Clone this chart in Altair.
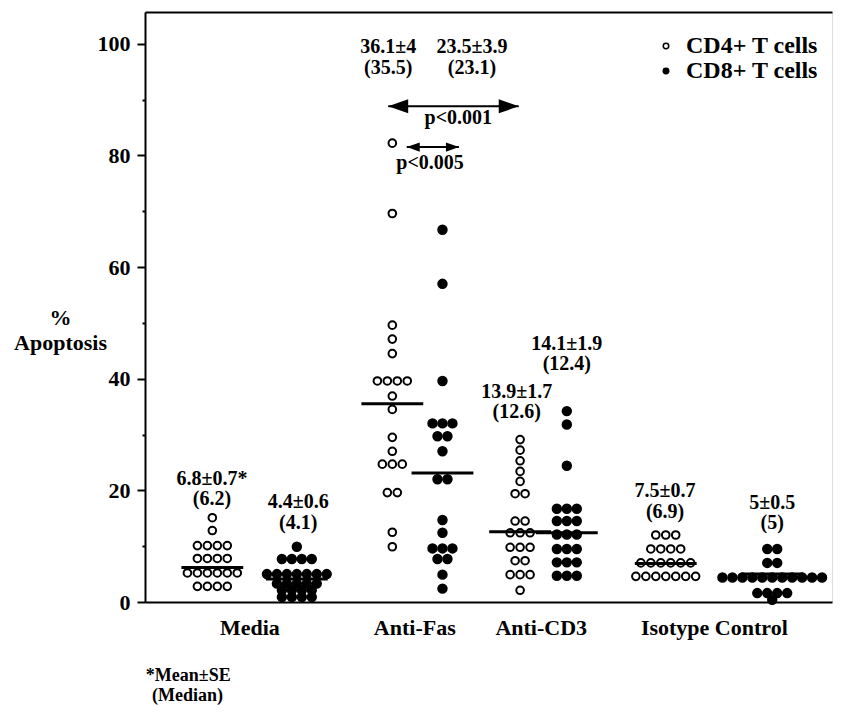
import altair as alt
import pandas as pd

# ---------------- data ----------------
groups = ["Media", "Anti-Fas", "Anti-CD3", "Isotype Control"]
series = ["CD4+ T cells", "CD8+ T cells"]

media_cd4 = [15.1, 12.8, 10.1, 10.1, 10.1, 10.1, 7.8, 7.8, 7.8, 7.8,
             5.2, 5.2, 5.2, 5.2, 5.2, 5.2, 2.8, 2.8, 2.8, 2.8]
media_cd8 = [9.9, 7.7, 7.7, 7.7, 7.7, 5.0, 5.0, 5.0, 5.0, 5.0, 5.0, 5.0,
             3.3, 3.3, 3.3, 3.3, 3.3, 2.1, 2.1, 2.1, 2.1, 0.9, 0.9, 0.9, 0.9]
antifas_cd4 = [82.2, 69.6, 49.6, 47.1, 44.5, 39.6, 39.6, 39.6, 39.6, 36.9,
               34.5, 29.5, 27.0, 24.7, 24.7, 24.7, 19.6, 19.6, 12.5, 9.9]
antifas_cd8 = [66.7, 57.0, 39.6, 32.0, 32.0, 32.0, 29.7, 29.7, 27.0, 22.0,
               22.0, 14.7, 12.4, 9.6, 9.6, 9.6, 7.7, 7.7, 4.9, 2.4]
anticd3_cd4 = [29.1, 27.2, 25.3, 23.4, 21.6, 19.4, 19.4, 14.5, 14.5, 12.4,
               12.4, 12.4, 9.8, 9.8, 9.8, 7.4, 7.4, 4.9, 4.9, 4.9, 2.1]
anticd3_cd8 = [34.2, 31.8, 24.4, 16.7, 16.7, 16.7, 14.5, 14.5, 14.5, 12.1,
               12.1, 12.1, 9.5, 9.5, 9.5, 7.1, 7.1, 7.1, 4.7, 4.7, 4.7]
isotype_cd4 = [12.0, 12.0, 12.0, 9.5, 9.5, 9.5, 9.5, 7.0, 7.0, 7.0, 7.0, 7.0,
               7.0, 4.6, 4.6, 4.6, 4.6, 4.6, 4.6, 4.6]
isotype_cd8 = [9.5, 9.5, 7.0, 7.0, 4.4, 4.4, 4.4, 4.4, 4.4, 4.4, 4.4, 4.4,
               4.4, 4.4, 4.4, 1.6, 1.6, 1.6, 1.6, 0.4]

medians = [6.2, 4.1, 35.5, 23.1, 12.6, 12.4, 6.9, 5.0]
mean_se_labels = ["6.8±0.7*", "4.4±0.6", "36.1±4", "23.5±3.9",
                  "13.9±1.7", "14.1±1.9", "7.5±0.7", "5±0.5"]
median_labels = ["(6.2)", "(4.1)", "(35.5)", "(23.1)",
                 "(12.6)", "(12.4)", "(6.9)", "(5)"]
p_labels = ["p<0.001", "p<0.005"]
footnote = ["*Mean±SE", "(Median)"]

# ---------------- layout (x in abstract units 0..100) ----------------
column_x = [9.8, 22.1, 36.0, 43.3, 54.6, 61.4, 75.8, 91.3]   # per group/series
group_label_x = [15.2, 39.2, 57.6, 82.8]
dot_step = 1.45
median_half = 4.5
stat_pos = [(9.75, 22.0, 18.4), (22.3, 17.9, 14.2), (35.4, 99.5, 95.6),
            (47.6, 99.5, 95.6), (54.1, 37.6, 34.0), (61.4, 46.2, 42.6),
            (75.7, 19.8, 16.2), (91.3, 17.8, 14.2)]
arrow_pos = [(35.4, 54.4, 88.8, 400), (38.1, 45.7, 81.5, 169)]
p_pos = [(45.6, 86.7), (41.5, 78.7)]
foot_pos = [(6.3, -13.2), (6.2, -16.8)]

FONT = "Liberation Serif"

# ---------------- build tables ----------------
all_sets = [media_cd4, media_cd8, antifas_cd4, antifas_cd8,
            anticd3_cd4, anticd3_cd8, isotype_cd4, isotype_cd8]
rows = []
for k, vals in enumerate(all_sets):
    counts = {}
    for v in vals:
        counts[v] = counts.get(v, 0) + 1
    for v, n in counts.items():
        for i in range(n):
            rows.append({"group": groups[k // 2], "series": series[k % 2],
                         "x": column_x[k] + (i - (n - 1) / 2) * dot_step,
                         "value": v})
points = pd.DataFrame(rows)

med_df = pd.DataFrame({"x": [c - median_half for c in column_x],
                       "x2": [c + median_half for c in column_x],
                       "value": medians})

text_rows = []
for k in range(8):
    cx, y1, y2 = stat_pos[k]
    text_rows.append({"x": cx, "value": y1, "label": mean_se_labels[k]})
    text_rows.append({"x": cx, "value": y2, "label": median_labels[k]})
for (px, py), lab in zip(p_pos, p_labels):
    text_rows.append({"x": px, "value": py, "label": lab})
text_df = pd.DataFrame(text_rows)
foot_df = pd.DataFrame([{"x": fx, "value": fy, "label": lab}
                        for (fx, fy), lab in zip(foot_pos, footnote)])

arrow_df = pd.DataFrame([{"x": a, "x2": b, "value": y} for a, b, y, s in arrow_pos])
head_rows = []
for a, b, y, s in arrow_pos:
    head_rows.append({"x": a, "value": y, "dir": "L", "hs": s})
    head_rows.append({"x": b, "value": y, "dir": "R", "hs": s})
head_df = pd.DataFrame(head_rows)

# ---------------- scales / axes ----------------
xscale = alt.Scale(domain=[0, 100], nice=False, zero=False)
yscale = alt.Scale(domain=[0, 105.7], nice=False, zero=False)

label_expr = " : ".join(
    f"abs(datum.value - {x}) < 0.01 ? '{g}'" for x, g in zip(group_label_x, groups)
) + " : ''"

y_axis = alt.Axis(
    values=list(range(0, 101, 10)),
    labelExpr="datum.value % 20 === 0 ? datum.label : ''",
    tickSize={"condition": {"test": "datum.value % 20 === 0", "value": 8}, "value": 3},
    tickWidth=2, tickColor="black", domainWidth=2, domainColor="black",
    labelFont=FONT, labelFontSize=22, labelFontWeight="bold", labelColor="black",
    labelPadding=7, grid=False,
    title=["%", "Apoptosis"], titleAngle=0, titleAlign="center",
    titleBaseline="alphabetic", titleX=-85, titleY=312, titleFont=FONT,
    titleFontSize=22, titleFontWeight="bold", titleColor="black", titleLineHeight=25,
)

x_axis_bottom = alt.Axis(
    values=group_label_x, labelExpr=label_expr, ticks=False, domain=True,
    domainWidth=2, domainColor="black", labelFont=FONT, labelFontSize=22,
    labelFontWeight="bold", labelColor="black", labelPadding=15, grid=False,
    title=None, labelFlush=False, labelOverlap=False,
)
x_axis_top = alt.Axis(orient="top", labels=False, ticks=False, domain=True,
                      domainWidth=2, domainColor="black", grid=False, title=None)

fill_enc = alt.Fill(
    "series:N", scale=alt.Scale(domain=series, range=["white", "black"]),
    legend=alt.Legend(orient="none", legendX=509, legendY=22, title=None,
                      symbolType="circle", symbolSize=30,
                      symbolStrokeColor="black", symbolStrokeWidth=1.5,
                      symbolOpacity=1, labelFont=FONT, labelFontSize=24,
                      labelFontWeight="bold", labelColor="black",
                      labelOffset=8, rowPadding=1, padding=0))

pts_open = alt.Chart(points).transform_filter(
    alt.datum.series == series[0]
).mark_point(shape="circle", filled=True, opacity=1, stroke="black",
             strokeWidth=2, size=58).encode(
    x=alt.X("x:Q", scale=xscale, axis=x_axis_bottom),
    y=alt.Y("value:Q", scale=yscale, axis=y_axis),
    fill=fill_enc,
)

pts_fill = alt.Chart(points).transform_filter(
    alt.datum.series == series[1]
).mark_point(shape="circle", filled=True, opacity=1, stroke="black",
             strokeWidth=1.5, size=80).encode(
    x=alt.X("x:Q", scale=xscale, axis=None),
    y=alt.Y("value:Q", scale=yscale, axis=y_axis),
    fill=fill_enc,
)

med = alt.Chart(med_df).mark_rule(color="black", strokeWidth=3).encode(
    x=alt.X("x:Q", scale=xscale, axis=x_axis_top),
    x2="x2:Q",
    y=alt.Y("value:Q", scale=yscale, axis=y_axis),
)

arrows = alt.Chart(arrow_df).mark_rule(color="black", strokeWidth=2).encode(
    x=alt.X("x:Q", scale=xscale, axis=None),
    x2="x2:Q",
    y=alt.Y("value:Q", scale=yscale, axis=y_axis),
)

heads = alt.Chart(head_df).mark_point(filled=True, opacity=1, color="black",
                                      strokeWidth=0).encode(
    x=alt.X("x:Q", scale=xscale, axis=None),
    y=alt.Y("value:Q", scale=yscale, axis=y_axis),
    shape=alt.Shape("dir:N", scale=alt.Scale(domain=["L", "R"],
                    range=["M0,0L2,-0.7L2,0.7Z", "M0,0L-2,-0.7L-2,0.7Z"]), legend=None),
    size=alt.Size("hs:Q", scale=None, legend=None),
)

texts = alt.Chart(text_df).mark_text(font=FONT, fontSize=20, fontWeight="bold",
                                     color="black", align="center",
                                     baseline="middle").encode(
    x=alt.X("x:Q", scale=xscale, axis=None),
    y=alt.Y("value:Q", scale=yscale, axis=y_axis),
    text="label:N",
)

foot = alt.Chart(foot_df).mark_text(font=FONT, fontSize=18, fontWeight="bold",
                                    color="black", align="center",
                                    baseline="middle").encode(
    x=alt.X("x:Q", scale=xscale, axis=None),
    y=alt.Y("value:Q", scale=yscale, axis=y_axis),
    text="label:N",
)

chart = alt.layer(pts_open, pts_fill, med, arrows, heads, texts, foot).resolve_axis(
    x="independent"
).properties(
    width=687, height=590,
    autosize=alt.AutoSizeParams(type="none"),
    padding={"left": 137, "top": 4, "right": 1, "bottom": 104},
).configure_view(stroke=None).configure(background="white")

chart.save("out.html", embed_options={"renderer": "svg", "actions": False})
